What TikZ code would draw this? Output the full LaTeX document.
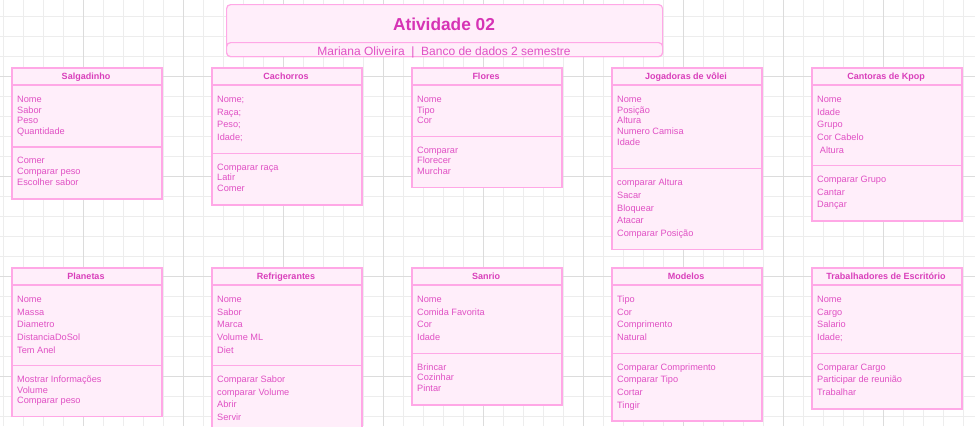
\documentclass[tikz,border=0pt]{standalone}
\usepackage{fontspec}
\setmainfont{Liberation Sans}
\definecolor{boxfill}{HTML}{FFEEFA}
\definecolor{boxline}{HTML}{FFA8E6}
\definecolor{itemtxt}{HTML}{E050C4}
\definecolor{hdrtxt}{HTML}{D93FBB}
\definecolor{titletxt}{HTML}{D633B5}
\definecolor{gridminor}{HTML}{EDEDED}
\definecolor{gridmajor}{HTML}{DCDCDC}
\tikzset{
  classbox/.style={draw=boxline, fill=boxfill, line width=1.5pt, inner sep=0pt, anchor=north west, minimum width=150pt},
  sepline/.style={draw=boxline, line width=1.2pt},
  hdr/.style={text=hdrtxt, font=\fontsize{9}{10}\selectfont\bfseries, inner sep=0pt, anchor=base},
  item/.style={text=itemtxt, font=\fontsize{9.2}{10}\selectfont, inner sep=0pt, anchor=base west},
  titlebox/.style={draw=boxline, fill=boxfill, line width=1.2pt, rounded corners=4pt, inner sep=0pt, anchor=north west, minimum width=436pt},
}
% #1 name, #2 left x, #3 top y, #4 title, #5 divider y, #6 bottom y, #7 attributes, #8 methods
\newcommand\umlclass[8]{%
  \node[classbox, minimum height={#6-#3}] (#1) at (#2,#3) {};
  \draw[sepline] ([yshift=-18pt]#1.north west) -- ([yshift=-18pt]#1.north east);
  \draw[sepline] (#1.west |- 0,#5) -- (#1.east |- 0,#5);
  \node[hdr] (#1-t) at ({#2+75},{#3+12}) {#4};
  \foreach \itm/\yy [count=\i] in {#7} {\node[item] (#1-a\i) at ({#2+6},{\yy+3.2}) {\itm};}
  \foreach \itm/\yy [count=\i] in {#8} {\node[item] (#1-m\i) at ({#2+6},{\yy+3.2}) {\itm};}
}
\begin{document}
\begin{tikzpicture}[x=1pt,y=-1pt]
\clip (0,0) rectangle (975,426);
\fill[white] (0,0) rectangle (975,426);
% grid
\foreach \x in {3,23,...,975} \draw[gridminor, line width=1pt] (\x,0) -- (\x,426);
\foreach \y in {16,36,...,426} \draw[gridminor, line width=1pt] (0,\y) -- (975,\y);
\foreach \x in {83,183,...,975} \draw[gridmajor, line width=1pt] (\x,0) -- (\x,426);
\foreach \y in {76,176,...,426} \draw[gridmajor, line width=1pt] (0,\y) -- (975,\y);
% title
\node[titlebox, minimum height=52pt] (title) at (226,4) {};
\node[titlebox, minimum height=14pt] (subtitle) at (226,42) {};
\node[text=titletxt, font=\fontsize{17.3}{20}\selectfont\bfseries, inner sep=0pt, anchor=base] (titletext) at (444,30.5) {Atividade 02};
\node[text=itemtxt, font=\fontsize{12}{14}\selectfont, inner sep=0pt, anchor=base] (subtext) at (444,55) {Mariana Oliveira\ \ |\ \ Banco de dados 2 semestre};
% row 1
\umlclass{salg}{11}{67}{Salgadinho}{147}{198}
  {Nome/99.3, Sabor/110, Peso/120.7, Quantidade/131.3}
  {Comer/160.7, Comparar peso/171.3, Escolher sabor/182}
\umlclass{cach}{211}{67}{Cachorros}{153.3}{204}
  {Nome;/99.3, Raça;/112, Peso;/124.7, Idade;/137.3}
  {Comparar raça/167, Latir/177.7, Comer/188.3}
\umlclass{flor}{411}{67}{Flores}{136.3}{186.7}
  {Nome/99.3, Tipo/110, Cor/120.7}
  {Comparar/150, Florecer/160.7, Murchar/171.3}
\umlclass{volei}{611}{67}{Jogadoras de vôlei}{168.3}{248.7}
  {Nome/99.3, Posição/110, Altura/120.7, Numero Camisa/131.3, Idade/142}
  {comparar Altura/182.7, Sacar/195.3, Bloquear/208, Atacar/220.7, Comparar Posição/233.3}
\umlclass{kpop}{811}{67}{Cantoras de Kpop}{165.7}{220}
  {Nome/99.3, Idade/112, Grupo/124.7, Cor Cabelo/137.3, {\kern2.7pt Altura}/150}
  {Comparar Grupo/179.3, Cantar/192, Dançar/204.7}
% row 2
\umlclass{plan}{11}{267}{Planetas}{365.7}{415.7}
  {Nome/299.3, Massa/312, Diametro/324.7, DistanciaDoSol/337.3, Tem Anel/350}
  {Mostrar Informações/379.3, Volume/390, Comparar peso/400.7}
\umlclass{refri}{211}{267}{Refrigerantes}{365.7}{440}
  {Nome/299.3, Sabor/312, Marca/324.7, Volume ML/337.3, Diet/350}
  {Comparar Sabor/379.3, comparar Volume/392, Abrir/404.7, Servir/417.3}
\umlclass{sanrio}{411}{267}{Sanrio}{353.3}{404}
  {Nome/299.3, Comida Favorita/312, Cor/324.7, Idade/337.3}
  {Brincar/367, Cozinhar/377.7, Pintar/388.3}
\umlclass{model}{611}{267}{Modelos}{353.3}{420}
  {Tipo/299.3, Cor/312, Comprimento/324.7, Natural/337.3}
  {Comparar Comprimento/367, Comparar Tipo/379.7, Cortar/392.3, Tingir/405}
\umlclass{trab}{811}{267}{Trabalhadores de Escritório}{353.3}{408.3}
  {Nome/299.3, Cargo/312, Salario/324.7, Idade;/337.3}
  {Comparar Cargo/367, Participar de reunião/379.7, Trabalhar/392.3}
\end{tikzpicture}
\end{document}
